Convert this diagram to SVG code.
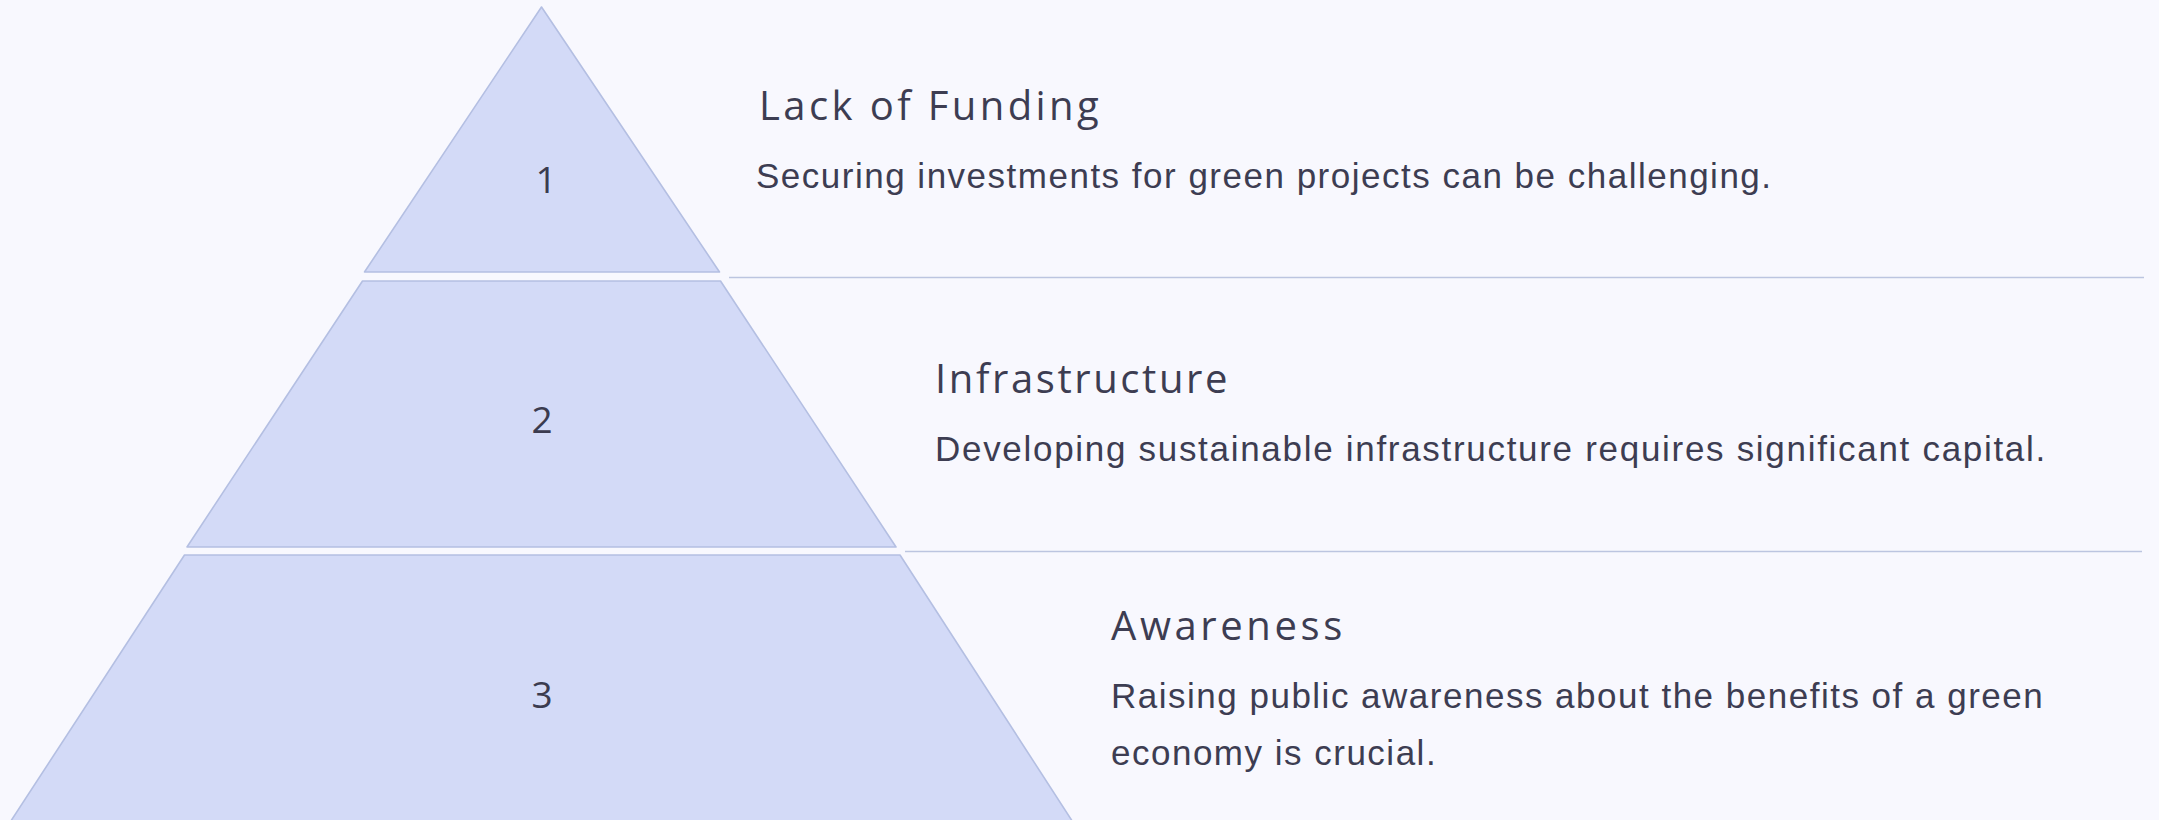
<svg xmlns="http://www.w3.org/2000/svg" width="2159" height="820" viewBox="0 0 2159 820">
<style>
.tier{fill:#d3daf7;stroke:#b4bfe2;stroke-width:1.6;stroke-linejoin:round}
.num{font-family:"Open Sans","Liberation Sans",sans-serif;font-size:37px;fill:#3b3b4f;text-anchor:middle}
.title{font-family:"Open Sans","Liberation Sans",sans-serif;font-size:40px;fill:#3d3d52;letter-spacing:3.3px}
.desc{font-family:"Liberation Sans",Arial,sans-serif;font-size:35px;fill:#3d3d52;letter-spacing:1.5px}
.div{stroke:#bcc5e0;stroke-width:1.6;fill:none}
</style>
<rect width="2159" height="820" fill="#f8f8fe"/>
<g id="tier1">
<polygon class="tier" points="541.5,7 719.5,272 364.5,272"/>
<text class="num" x="546" y="193">1</text>
<text class="title" x="759" y="120" style="letter-spacing:3.4px">Lack of Funding</text>
<text class="desc" x="756" y="188">Securing investments for green projects can be challenging.</text>
</g>
<g id="tier2">
<polygon class="tier" points="362.5,281 720.5,281 896,547 187,547"/>
<text class="num" x="542" y="433">2</text>
<text class="title" x="935" y="393" style="letter-spacing:2.6px">Infrastructure</text>
<text class="desc" x="935" y="461" style="letter-spacing:1.7px">Developing sustainable infrastructure requires significant capital.</text>
</g>
<g id="tier3">
<polygon class="tier" points="184.5,555 900,555 1078,830 5,830"/>
<text class="num" x="542" y="708">3</text>
<text class="title" x="1111" y="640" style="letter-spacing:3.6px">Awareness</text>
<text class="desc" x="1111" y="708">Raising public awareness about the benefits of a green</text>
<text class="desc" x="1111" y="765">economy is crucial.</text>
</g>
<g id="connectors">
<line class="div" x1="729" y1="277.5" x2="2144" y2="277.5"/>
<line class="div" x1="905" y1="551.5" x2="2142" y2="551.5"/>
</g>
</svg>
